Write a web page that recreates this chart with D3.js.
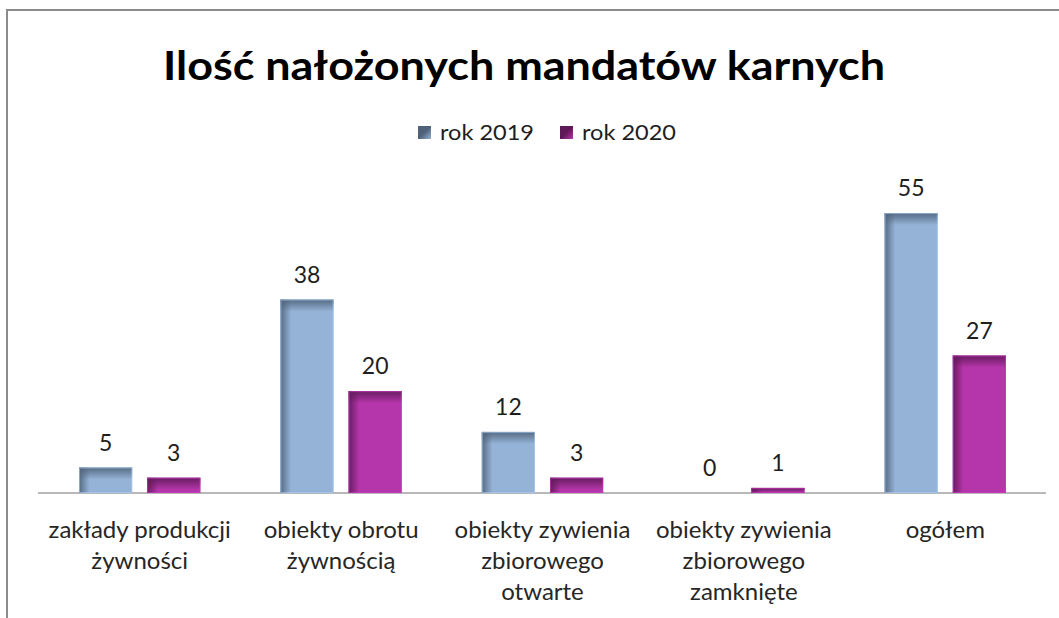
<!DOCTYPE html>
<html>
<head>
<meta charset="utf-8">
<script src="https://cdn.jsdelivr.net/npm/d3@7"></script>
<style>
  body { margin: 0; background: #fff; }
  svg { display: block; font-family: Lato, "Open Sans", sans-serif; }
</style>
</head>
<body>
<svg id="chart" width="1059" height="618"></svg>
<script>
const categories = [
    "zakłady produkcji\nżywności",
    "obiekty obrotu\nżywnością",
    "obiekty zywienia\nzbiorowego\notwarte",
    "obiekty zywienia\nzbiorowego\nzamknięte",
    "ogółem",
];
const series = ["rok 2019", "rok 2020"];
const values2019 = [5, 38, 12, 0, 55];
const values2020 = [3, 20, 3, 1, 27];

const fills = ["#95b3d7", "#b535aa"];
const darks = ["#4f6279", "#5e1a58"];

const svg = d3.select("#chart");
const defs = svg.append("defs");

// frame (only top and left visible in the crop)
svg.append("path")
    .attr("d", "M7,618 V10 H1059")
    .attr("fill", "none")
    .attr("stroke", "#8c8c8c")
    .attr("stroke-width", 2);

const x0 = d3.scaleBand().domain(d3.range(categories.length)).range([39, 1046]);
const x1 = d3.scaleBand().domain([0, 1]).range([40, x0.bandwidth() - 40]).paddingInner(0.22);
const y = d3.scaleLinear().domain([0, 60]).range([493, 187.6]);

// gradients
series.forEach((s, i) => {
    const h = defs.append("linearGradient").attr("id", "h" + i).attr("x1", 0).attr("x2", 1).attr("y1", 0).attr("y2", 0);
    h.append("stop").attr("offset", 0).attr("stop-color", darks[i]).attr("stop-opacity", 0.9);
    h.append("stop").attr("offset", 0.2).attr("stop-color", darks[i]).attr("stop-opacity", 0);
    const v = defs.append("linearGradient").attr("id", "v" + i).attr("x1", 0).attr("x2", 0).attr("y1", 0).attr("y2", 1);
    v.append("stop").attr("offset", 0).attr("stop-color", darks[i]).attr("stop-opacity", 0.9);
    v.append("stop").attr("offset", 1).attr("stop-color", darks[i]).attr("stop-opacity", 0);
    const l = defs.append("linearGradient").attr("id", "l" + i).attr("x1", 0).attr("x2", 1).attr("y1", 0).attr("y2", 1);
    l.append("stop").attr("offset", 0).attr("stop-color", darks[i]);
    l.append("stop").attr("offset", 0.5).attr("stop-color", darks[i]);
    l.append("stop").attr("offset", 1).attr("stop-color", fills[i]);
});

// title
svg.append("text")
    .attr("x", 524).attr("y", 80)
    .attr("text-anchor", "middle")
    .attr("font-size", 41).attr("font-weight", "bold")
    .attr("fill", "#000")
    .attr("textLength", 722).attr("lengthAdjust", "spacingAndGlyphs")
    .text("Ilość nałożonych mandatów karnych");

// legend
const legendX = [418, 560];
series.forEach((s, i) => {
    svg.append("rect")
        .attr("x", legendX[i]).attr("y", 126).attr("width", 13).attr("height", 13)
        .attr("fill", `url(#l${i})`);
    svg.append("text")
        .attr("x", legendX[i] + 22).attr("y", 140)
        .attr("font-size", 22).attr("fill", "#1e1e1e")
        .attr("textLength", 94).attr("lengthAdjust", "spacingAndGlyphs")
        .text(s);
});

// axis line
svg.append("line")
    .attr("x1", 38).attr("x2", 1046)
    .attr("y1", y(0)).attr("y2", y(0))
    .attr("stroke", "#a0a0a0").attr("stroke-width", 1.5);

const data = [];
categories.forEach((c, ci) => {
    [values2019[ci], values2020[ci]].forEach((v, si) => data.push({ ci, si, v }));
});

const bars = svg.append("g").selectAll("g").data(data).join("g")
    .attr("transform", (d) => `translate(${x0(d.ci) + x1(d.si)},0)`);

bars.filter((d) => d.v > 0).each(function (d) {
    const g = d3.select(this);
    const w = x1.bandwidth();
    const top = y(d.v);
    const hgt = y(0) - top;
    g.append("rect").attr("x", 0).attr("y", top).attr("width", w).attr("height", hgt)
        .attr("fill", fills[d.si]);
    g.append("rect").attr("x", 0).attr("y", top).attr("width", w).attr("height", hgt)
        .attr("fill", `url(#h${d.si})`);
    g.append("rect").attr("x", 0).attr("y", top).attr("width", w).attr("height", Math.min(12, hgt))
        .attr("fill", `url(#v${d.si})`);
    g.append("rect").attr("x", 0.5).attr("y", top + 0.5).attr("width", w - 1).attr("height", hgt - 1)
        .attr("fill", "none").attr("stroke", d3.color(fills[d.si]).brighter(0.4)).attr("stroke-width", 1).attr("opacity", 0.6);
});

bars.append("text")
    .attr("x", x1.bandwidth() / 2)
    .attr("y", (d) => y(d.v) - 17)
    .attr("text-anchor", "middle")
    .attr("font-size", 23).attr("fill", "#1e1e1e")
    .text((d) => d.v);

// category labels
svg.append("g").selectAll("text").data(categories).join("text")
    .attr("x", (d, i) => x0(i) + x0.bandwidth() / 2)
    .attr("y", 538)
    .attr("text-anchor", "middle")
    .attr("font-size", 24).attr("fill", "#262626")
    .each(function (d) {
        d3.select(this).selectAll("tspan").data(d.split("\n")).join("tspan")
            .attr("x", d3.select(this).attr("x"))
            .attr("dy", (t, j) => (j === 0 ? 0 : 31))
            .text((t) => t);
    });
</script>
</body>
</html>
